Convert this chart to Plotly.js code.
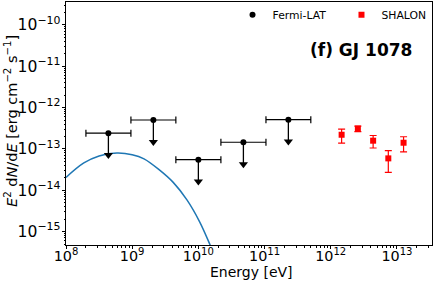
<!DOCTYPE html>
<html>
<head>
<meta charset="utf-8">
<script src="https://cdn.plot.ly/plotly-3.0.1.min.js"></script>
<style>html,body{margin:0;padding:0;background:#fff;}#chart{width:436px;height:282px;}</style>
</head>
<body>
<div id="chart"></div>
<script>
// Fermi-LAT upper limits (bin centres and edges in eV, flux in erg cm^-2 s^-1)
const fermiE   = [4.37e8, 2.09e9, 1.00e10, 4.79e10, 2.29e11];
const fermiElo = [2.00e8, 9.57e8, 4.57e9, 2.19e10, 1.05e11];
const fermiEhi = [9.57e8, 4.57e9, 2.19e10, 1.05e11, 5.00e11];
const fermiF   = [2.4e-13, 5.0e-13, 5.5e-14, 1.45e-13, 5.1e-13];

// SHALON points
const shalonE   = [1.46e12, 2.57e12, 4.37e12, 7.41e12, 1.26e13];
const shalonF   = [2.2e-13, 3.1e-13, 1.58e-13, 5.9e-14, 1.41e-13];
const shalonErr = [0.82e-13, 0.47e-13, 0.53e-13, 3.2e-14, 0.56e-13];

// Model curve
const curveE = [1e8, 1.86e8, 3.16e8, 5.89e8, 1e9, 1.51e9, 2.63e9, 4.17e9, 6.76e9, 1.05e10, 1.51e10, 1.78e10];
const curveF = [2.04e-14, 4.57e-14, 6.76e-14, 7.94e-14, 7.24e-14, 5.75e-14, 3.02e-14, 1.55e-14, 5.75e-15, 1.70e-15, 4.68e-16, 2.51e-16];

const xTitle = 'Energy [eV]';
const yTitle = '<i>E</i><sup>2</sup> d<i>N</i>/d<i>E</i> [erg cm<sup>−2</sup> s<sup>−1</sup>]';
const label = '<b>(f) GJ 1078</b>';

const arrowFactor = Math.pow(10, -0.53);
const font = 'DejaVu Sans, sans-serif';

const arrowX = [], arrowY = [];
fermiE.forEach((e, i) => { arrowX.push(e, e, null); arrowY.push(fermiF[i], fermiF[i] * arrowFactor, null); });

const traces = [
  {
    x: curveE, y: curveF, mode: 'lines', type: 'scatter',
    line: {color: '#1f77b4', width: 1.5, shape: 'spline'},
    showlegend: false, hoverinfo: 'skip'
  },
  {
    x: arrowX, y: arrowY, mode: 'lines', type: 'scatter',
    line: {color: '#000', width: 1.3}, showlegend: false
  },
  {
    x: fermiE, y: fermiF.map(f => f * arrowFactor), mode: 'markers', type: 'scatter',
    marker: {symbol: 'triangle-down', size: 8, color: '#000'}, showlegend: false
  },
  {
    x: fermiE, y: fermiF, mode: 'markers', type: 'scatter', name: 'Fermi-LAT',
    marker: {symbol: 'circle', size: 6, color: '#000'},
    error_x: {type: 'data', symmetric: false,
      array: fermiE.map((e, i) => fermiEhi[i] - e),
      arrayminus: fermiE.map((e, i) => e - fermiElo[i]),
      color: '#000', thickness: 1.2, width: 3.5},
    legend: 'legend'
  },
  {
    x: shalonE, y: shalonF, mode: 'markers', type: 'scatter', name: 'SHALON',
    marker: {symbol: 'square', size: 6, color: '#ff0000'},
    error_y: {type: 'data', array: shalonErr, color: '#ff0000', thickness: 1.2, width: 3.5},
    legend: 'legend2'
  }
];

const axisCommon = {
  type: 'log', showgrid: false, zeroline: false, automargin: false,
  showline: true, linecolor: '#000', linewidth: 1, mirror: true,
  ticks: 'outside', ticklen: 3, tickwidth: 1, tickcolor: '#000',
  dtick: 1, exponentformat: 'power',
  minor: {ticks: 'outside', ticklen: 1.5, tickcolor: '#000', showgrid: false}
};

const layout = {
  width: 436, height: 282,
  margin: {l: 66, r: 4, t: 1, b: 37},
  paper_bgcolor: '#fff', plot_bgcolor: '#fff',
  font: {family: font, color: '#000'},
  xaxis: Object.assign({}, axisCommon, {
    range: [8, 13.53], ticklabelstandoff: -5,
    tickfont: {family: font, size: 11.5, color: '#000'}
  }),
  yaxis: Object.assign({}, axisCommon, {
    range: [-15.325, -9.446], ticklabelstandoff: -1,
    tickfont: {family: font, size: 12.5, color: '#000'}
  }),
  legend: {x: 0.455, y: 1.003, xanchor: 'left', yanchor: 'top', bgcolor: 'rgba(0,0,0,0)',
    font: {family: font, size: 10.8}},
  legend2: {x: 0.7527, y: 1.003, xanchor: 'left', yanchor: 'top', bgcolor: 'rgba(0,0,0,0)',
    font: {family: font, size: 10.8}},
  annotations: [
    {
      text: label, xref: 'paper', yref: 'paper',
      x: 0.806, y: 0.8045, xanchor: 'center', yanchor: 'middle', showarrow: false,
      font: {family: font, size: 17, color: '#000'}
    },
    {
      text: xTitle, xref: 'paper', yref: 'paper',
      x: (251 - 66) / 366, y: -(272.5 - 245) / 244, xanchor: 'center', yanchor: 'middle', showarrow: false,
      font: {family: font, size: 14, color: '#000'}
    },
    {
      text: yTitle, xref: 'paper', yref: 'paper', textangle: -90,
      x: -(66 - 11) / 366, y: (245 - 120.5) / 244, xanchor: 'center', yanchor: 'middle', showarrow: false,
      font: {family: font, size: 14.5, color: '#000'}
    }
  ]
};

Plotly.newPlot('chart', traces, layout, {displayModeBar: false, staticPlot: true});
</script>
</body>
</html>
